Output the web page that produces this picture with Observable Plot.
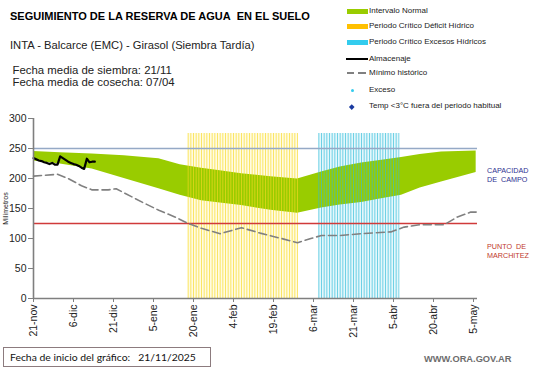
<!DOCTYPE html>
<html><head><meta charset="utf-8">
<script src="https://cdn.jsdelivr.net/npm/d3@7"></script>
<script src="https://cdn.jsdelivr.net/npm/@observablehq/plot@0.6"></script>
<style>
body{margin:0;background:#fff;}
#wrap{position:relative;width:541px;height:368px;overflow:hidden;font-family:"Liberation Sans",Arial,sans-serif;color:#111;}
#wrap svg{position:absolute;left:0;top:0;}
.t{position:absolute;white-space:nowrap;line-height:1;}
.lg{position:absolute;white-space:nowrap;font-size:8px;line-height:1;color:#222;}
.sw{position:absolute;}
</style></head><body><div id="wrap"></div>
<script>
// ---------- data ----------
const fechaInicio = "2025-11-21";
const xEndDays = 166.5;

// Almacenaje (days since start, mm)
const almDays = [0,1,2,3,4,5,6,7,8,9,10,11,12,13,14,15,16,17,18,19,20,21,22,23];
const almVals = [234,232,230,229,227,226,224,226,223,223,237,234,231,228,226,224,223,221,218,216,233,227,228,228];

// Mínimo histórico
const minDays = [0,9,13,18,22,28,31,34,41,47,53,58,63,70,78,85,93,99,104,108,115,123,130,134,139,145,150,154,159,164,166];
const minVals = [204,207,200,188,181,181,183,176,160,147,136,125,117,108,118,109,100,93,100,105,105,108,110,111,119,123,123,123,136,144,144];

// Intervalo normal
const bandDays = [0,10,22,34,47,55,63,70,78,89,99,108,115,123,130,138,145,153,166];
const bandHigh = [245,243,241,238,233,223,217,213,208,203,199,211,219,226,230,235,240,244,246];
const bandLow  = [229,224,216,200,183,172,163,159,155,147,142,151,156,160,166,172,184,194,210];

// Periodos críticos
const deficitPeriod = ["2026-01-18","2026-02-28"];
const excesoPeriod  = ["2026-03-08","2026-04-07"];
const periodTop = 275;

// Referencias
const capacidadCampo = 250;
const puntoMarchitez = 125;

// Ejes
const yTicks = [0,50,100,150,200,250,300];
const xTickDates = ["2025-11-21","2025-12-06","2025-12-21","2026-01-05","2026-01-20","2026-02-04","2026-02-19","2026-03-06","2026-03-21","2026-04-05","2026-04-20","2026-05-05"];
const xTickLabels = ["21-nov","6-dic","21-dic","5-ene","20-ene","4-feb","19-feb","6-mar","21-mar","5-abr","20-abr","5-may"];

// ---------- build ----------
const start = new Date(fechaInicio);
const dayAt = n => new Date(start.getTime() + n * 864e5);
const alm = almDays.map((d,i) => ({date: dayAt(d), v: almVals[i]}));
const mins = minDays.map((d,i) => ({date: dayAt(d), v: minVals[i]}));
const band = bandDays.map((d,i) => ({date: dayAt(d), hi: bandHigh[i], lo: bandLow[i]}));
const daysOf = p => d3.utcDay.range(new Date(p[0]), d3.utcDay.offset(new Date(p[1]), 1));
const defDays = daysOf(deficitPeriod);
const excDays = daysOf(excesoPeriod);
const perRect = p => [{x1: new Date(p[0]), x2: new Date(p[1])}];
const tickDates = xTickDates.map(s => new Date(s));
const tickLab = new Map(tickDates.map((d,i) => [+d, xTickLabels[i]]));

const chart = Plot.plot({
  width: 541, height: 368,
  marginLeft: 33, marginRight: 64, marginTop: 118, marginBottom: 70,
  style: {fontFamily: '"Liberation Sans", Arial, sans-serif', fontSize: "10.5px", color: "#222", background: "transparent"},
  x: {type: "utc", domain: [start, dayAt(xEndDays)]},
  y: {domain: [0, 300]},
  marks: [
    Plot.rect(perRect(deficitPeriod), {x1: "x1", x2: "x2", y1: 0, y2: periodTop, fill: "#fffbe2"}),
    Plot.rect(perRect(excesoPeriod), {x1: "x1", x2: "x2", y1: 0, y2: periodTop, fill: "#e4f7fb"}),
    Plot.areaY(band, {x: "date", y1: "lo", y2: "hi", fill: "#99cc00"}),
    Plot.ruleX(defDays, {x: d => d, y1: 0, y2: periodTop, stroke: "#f8d820", strokeWidth: 0.9, strokeOpacity: 0.72}),
    Plot.ruleX(excDays, {x: d => d, y1: 0, y2: periodTop, stroke: "#2fbcd8", strokeWidth: 0.9, strokeOpacity: 0.72}),
    Plot.ruleY([capacidadCampo], {stroke: "#95a9c6", strokeWidth: 1.6}),
    Plot.ruleY([puntoMarchitez], {stroke: "#d03a3a", strokeWidth: 1.3}),
    Plot.line(mins, {x: "date", y: "v", stroke: "#808080", strokeWidth: 1.6, strokeDasharray: "8,4"}),
    Plot.line(alm, {x: "date", y: "v", stroke: "#000", strokeWidth: 2.2}),
    Plot.axisY({ticks: yTicks, tickSize: 5, tickPadding: 2, stroke: "#7f7f7f", fill: "#222", label: null, fontSize: 10.5}),
    Plot.axisX({ticks: tickDates, tickFormat: d => tickLab.get(+d), tickRotate: -90, tickSize: 4, tickPadding: 2, stroke: "#7f7f7f", fill: "#222", label: null, fontSize: 10.5}),
    Plot.ruleX([start], {y1: 0, y2: 300, stroke: "#7f7f7f", strokeWidth: 1.6}),
    Plot.ruleY([0], {stroke: "#7f7f7f", strokeWidth: 1.6})
  ]
});
const wrap = document.getElementById("wrap");
wrap.appendChild(chart);

function txt(cls, s, x, y, style) {
  const e = document.createElement("div");
  e.className = cls; e.textContent = s;
  e.style.left = x + "px"; e.style.top = y + "px";
  Object.assign(e.style, style || {});
  wrap.appendChild(e); return e;
}
function sw(x, y, w, h, style) {
  const e = document.createElement("div");
  e.className = "sw";
  Object.assign(e.style, {left: x + "px", top: y + "px", width: w + "px", height: h + "px"}, style);
  wrap.appendChild(e); return e;
}

// Titles
txt("t", "SEGUIMIENTO DE LA RESERVA DE AGUA\u00a0 EN EL SUELO", 10, 10.5, {fontSize: "11px", fontWeight: "bold", color: "#000"});
txt("t", "INTA - Balcarce (EMC) - Girasol (Siembra Tardía)", 10, 39.5, {fontSize: "11.2px", color: "#222"});
txt("t", "Fecha media de siembra: 21/11", 12.5, 64.5, {fontSize: "11.4px", color: "#222"});
txt("t", "Fecha media de cosecha: 07/04", 12.5, 76.5, {fontSize: "11.4px", color: "#222"});

// Legend
const lx = 347, tx = 369;
const legend = [
  ["Intervalo Normal", 11], ["Periodo Crítico Déficit Hídrico", 26], ["Periodo Crítico Excesos Hídricos", 42],
  ["Almacenaje", 59], ["Mínimo histórico", 73], ["Exceso", 90], ["Temp <3°C fuera del periodo habitual", 106]
];
legend.forEach(([s, y]) => txt("lg", s, tx, y - 4.5));
sw(lx, 9, 21, 4.5, {background: "#99cc00"});
sw(lx, 24, 21, 4.5, {background: "#ffc000"});
sw(lx, 40, 21, 4.5, {background: "#33ccee"});
sw(lx - 1, 58, 22, 2.2, {background: "#000"});
sw(lx, 72, 7, 1.6, {background: "#808080"});
sw(lx + 11, 72, 8, 1.6, {background: "#808080"});
sw(350.5, 88.5, 3, 3, {background: "#33ccee", borderRadius: "50%"});
sw(350, 104.5, 3.5, 3.5, {background: "#1a3aa0", transform: "rotate(45deg)"});

// Right labels
txt("t", "CAPACIDAD", 487, 166.5, {fontSize: "7.2px", color: "#2e3192"});
txt("t", "DE\u00a0 CAMPO", 487, 175.5, {fontSize: "7.2px", color: "#2e3192"});
txt("t", "PUNTO\u00a0 DE", 487, 243, {fontSize: "7.2px", color: "#c0392b"});
txt("t", "MARCHITEZ", 487, 251.5, {fontSize: "7.2px", color: "#c0392b"});

// Y label
txt("t", "Milímetros", -11, 205, {fontSize: "7px", color: "#222", transform: "rotate(-90deg)", transformOrigin: "center"});

// Bottom box
sw(3, 347, 208, 20, {border: "1px solid #8c7b7e", boxSizing: "border-box"});
txt("t", "Fecha de inicio del gráfico:\u00a0\u00a0 21/11/2025", 10, 352, {fontSize: "10.4px", fontFamily: "Lato, sans-serif", color: "#111"});
txt("t", "WWW.ORA.GOV.AR", 424, 355, {fontSize: "9.3px", fontWeight: "bold", color: "#6d6d6d"});
</script></body></html>
